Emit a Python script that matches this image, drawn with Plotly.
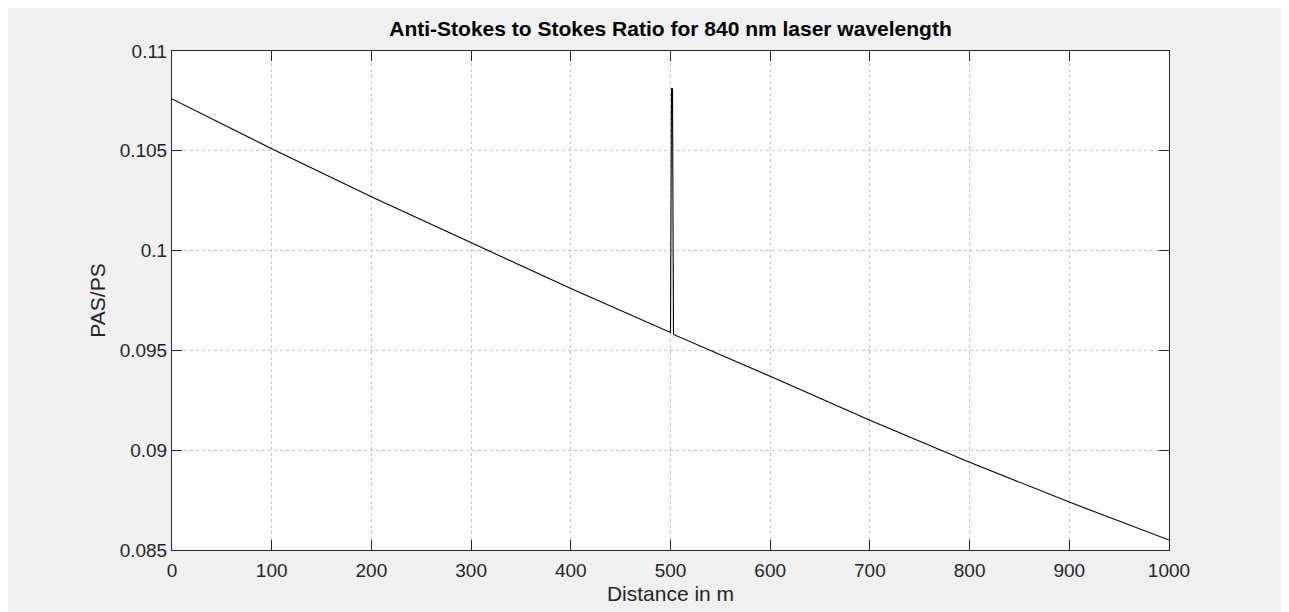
import plotly.graph_objects as go

# Data
distance = [0, 100, 200, 300, 400, 500, 501, 502, 503, 600, 700, 800, 900, 1000]
ratio = [0.1076, 0.1051, 0.1027, 0.1004, 0.0981, 0.0959, 0.1081, 0.1081, 0.0958,
         0.0937, 0.0915, 0.0894, 0.0874, 0.0855]

x_ticks = [0, 100, 200, 300, 400, 500, 600, 700, 800, 900, 1000]
y_ticks = [0.085, 0.09, 0.095, 0.1, 0.105, 0.11]
y_tick_text = ["0.085", "0.09", "0.095", "0.1", "0.105", "0.11"]

title_text = "Anti-Stokes to Stokes Ratio for 840 nm laser wavelength"
x_label = "Distance in m"
y_label = "PAS/PS"

FONT = "Liberation Sans, Arial, Helvetica, sans-serif"
TXT = "#262626"

W, H = 1281, 604
L, T, PW, PH = 164, 43, 997, 499

fig = go.Figure()
fig.add_trace(go.Scatter(x=distance, y=ratio, mode="lines",
                         line=dict(color="#000000", width=1.1),
                         showlegend=False, hoverinfo="x+y"))

axis_common = dict(
    showline=True, linecolor=TXT, linewidth=1, mirror="ticks",
    ticks="inside", ticklen=10, tickwidth=1, tickcolor=TXT,
    showgrid=True, gridcolor="#c4c4c4", griddash="dot", gridwidth=1,
    zeroline=False, tickfont=dict(family=FONT, size=19, color=TXT),
)

fig.update_xaxes(range=[0, 1000], tickvals=x_ticks, ticklabelstandoff=3, **axis_common,
                 title=dict(text=x_label, font=dict(family=FONT, size=21, color=TXT), standoff=6))
fig.update_yaxes(range=[0.085, 0.11], tickvals=y_ticks, ticktext=y_tick_text, **axis_common,
                 title=dict(text=y_label, font=dict(family=FONT, size=21, color=TXT), standoff=8))

fig.update_layout(
    width=W, height=H,
    paper_bgcolor="#f0f0f0", plot_bgcolor="#ffffff",
    margin=dict(l=L, r=W - L - PW, t=T, b=H - T - PH),
    title=dict(text="<b>" + title_text + "</b>", x=(L + PW / 2) / W, xanchor="center",
               y=1 - 21 / H, yanchor="middle", yref="container",
               font=dict(family=FONT, size=21, color="#000000")),
)

fig.write_html("out.html")
